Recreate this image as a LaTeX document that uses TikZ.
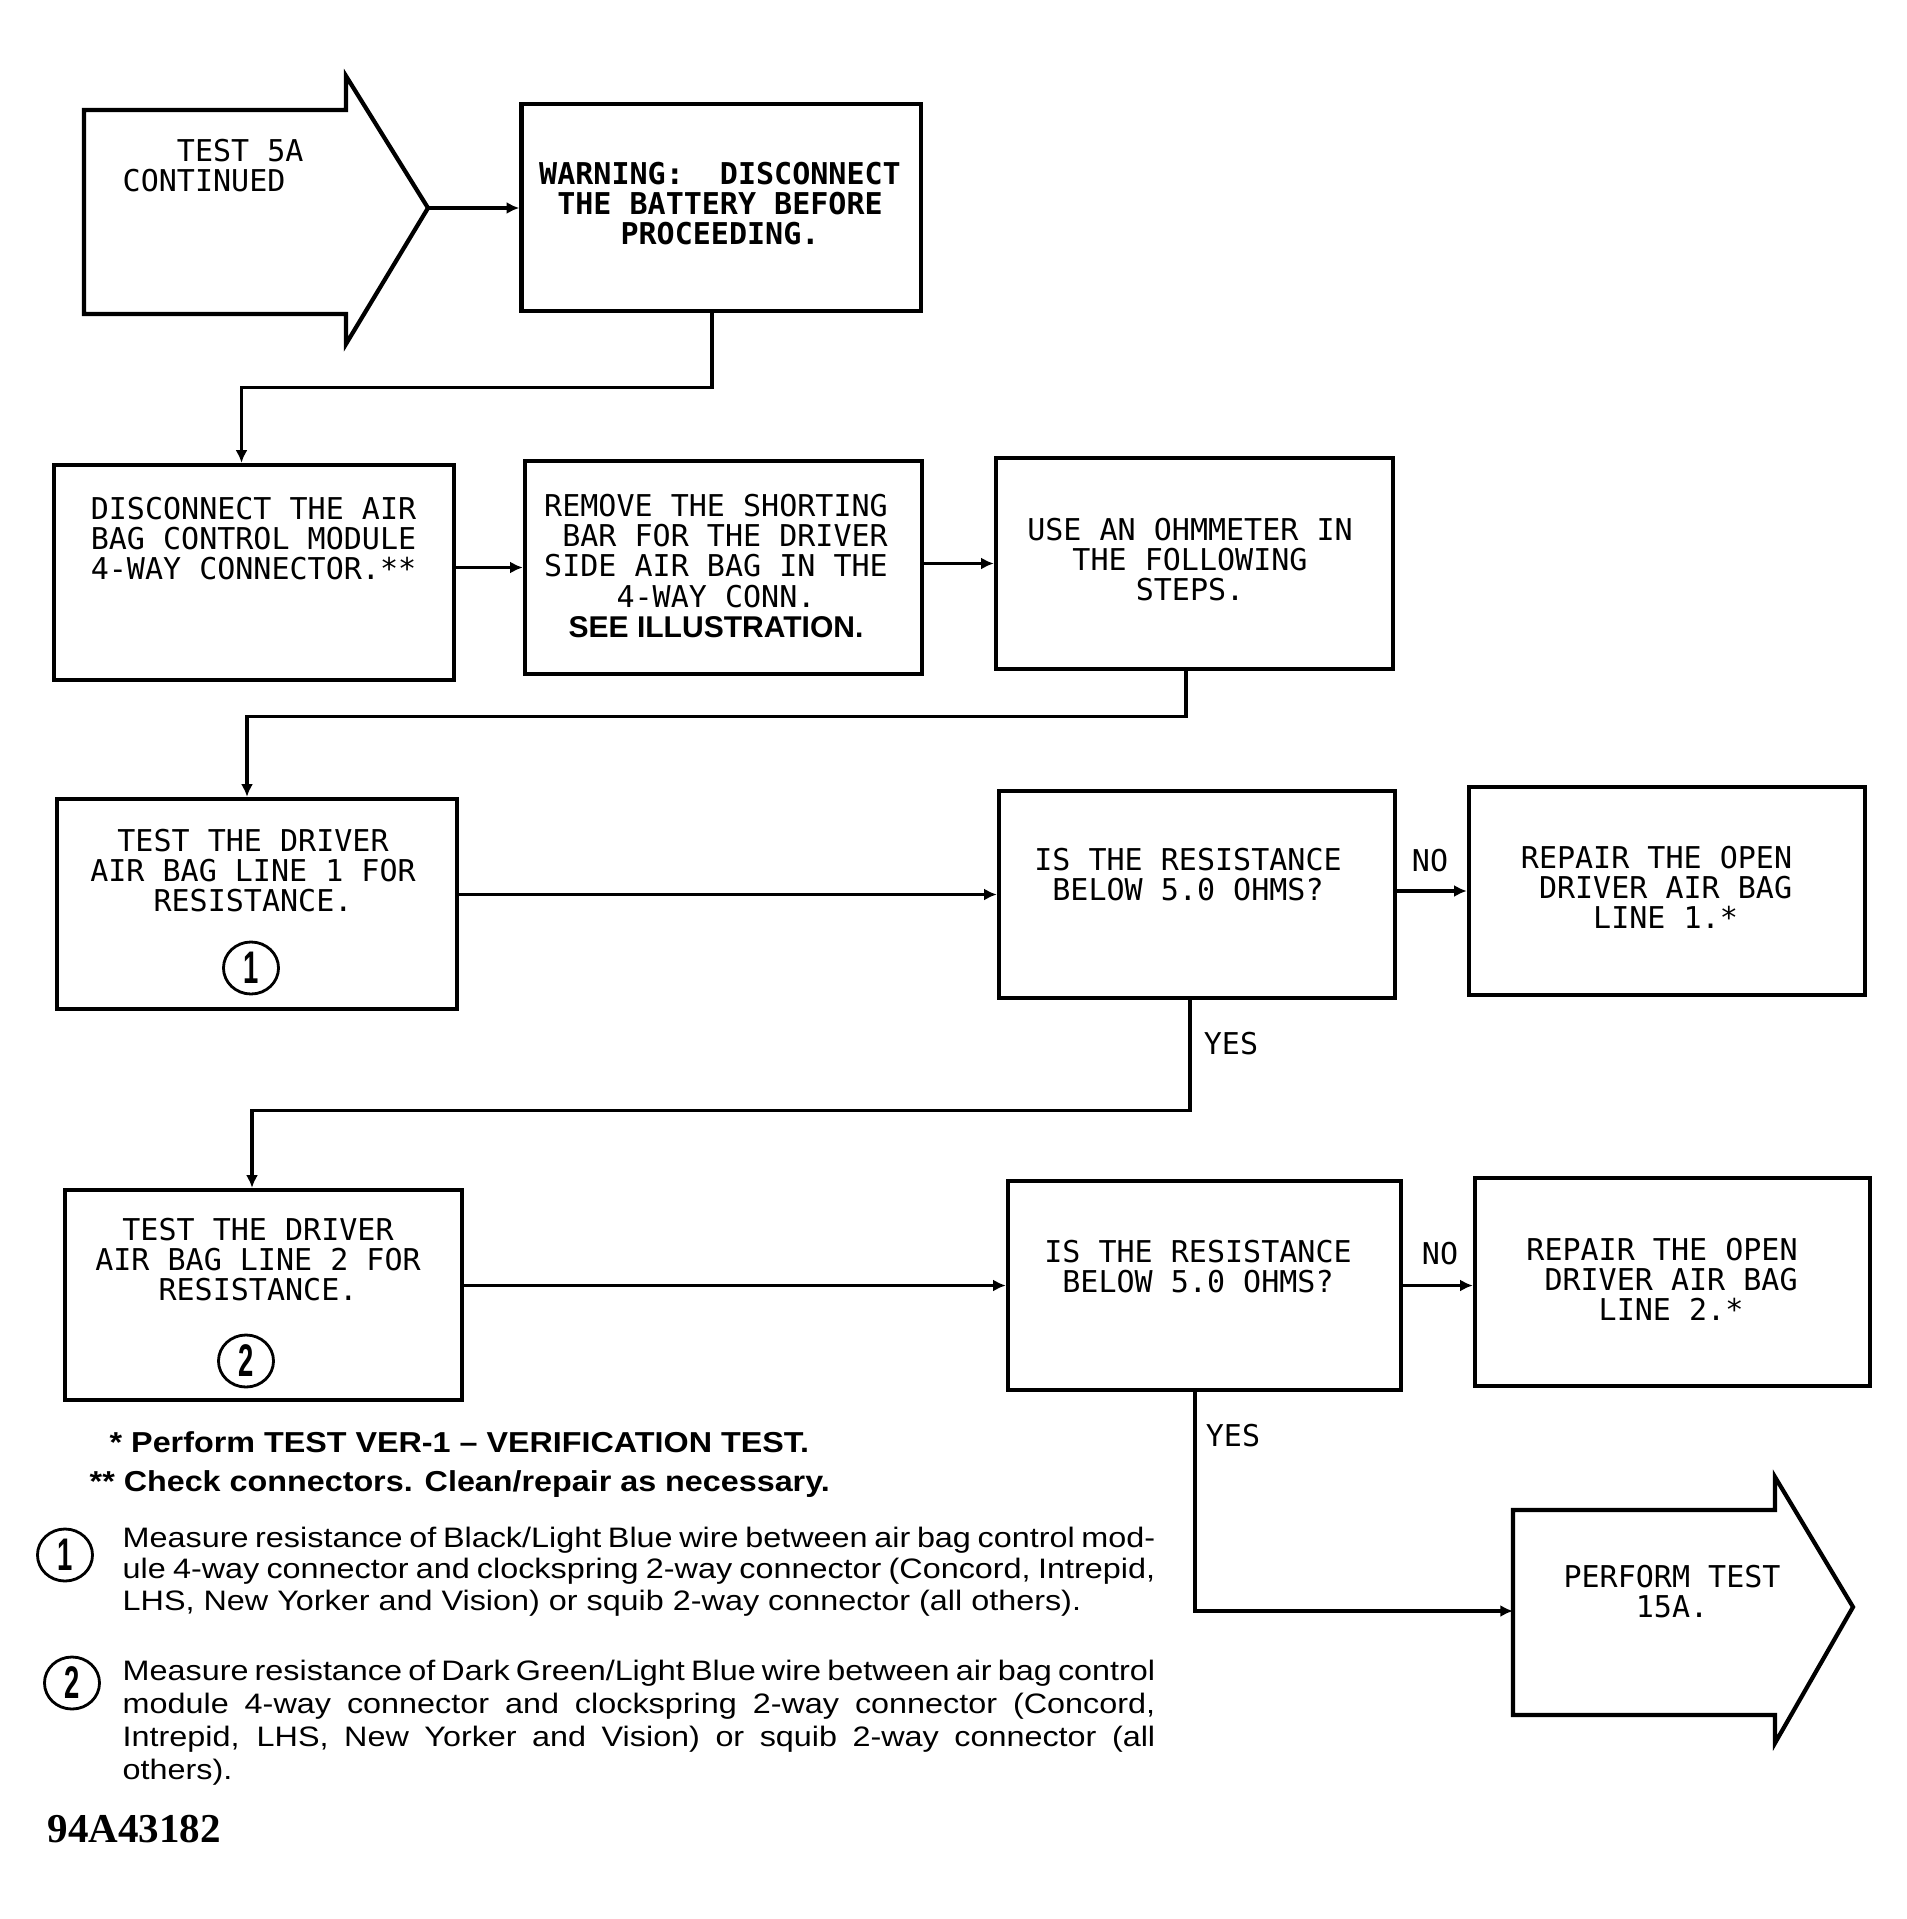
\documentclass[tikz,border=0pt]{standalone}
\usepackage{fontspec}
\setmainfont{Liberation Sans}
\newfontfamily\plotfont{DejaVu Sans Mono}
\newfontfamily\notefont[FakeStretch=1.12]{Liberation Sans}
\newfontfamily\parafont[FakeStretch=1.15]{Liberation Sans}
\newfontfamily\numfont[FakeStretch=0.6]{Liberation Sans}
\newfontfamily\codefont{Liberation Serif}
\usetikzlibrary{arrows.meta,shapes.geometric,calc}
\begin{document}
\begin{tikzpicture}[x=0.01cm,y=-0.01cm,>={Latex[length=3.6pt,width=3.4pt]},
    box/.style={draw,line width=1.2pt,inner sep=0pt},
    txt/.style={font=\plotfont\fontsize{8.54}{8.54}\selectfont,align=center,inner sep=0pt},
    btxt/.style={txt,font=\plotfont\bfseries\fontsize{8.54}{8.54}\selectfont},
    num/.style={draw,ellipse,line width=0.8pt,minimum width=0.55cm,minimum height=0.52cm,inner sep=0pt,font=\numfont\bfseries\fontsize{13}{13}\selectfont},
    note/.style={font=\notefont\bfseries\fontsize{8.2}{9.39}\selectfont,inner sep=0pt},
    para/.style={font=\parafont\fontsize{8}{9.39}\selectfont,text width=10.32cm,align=justify,inner sep=0pt,
      execute at begin node={\tolerance=10000\hyphenpenalty=10000}}]
  \useasboundingbox (0,0) rectangle (1906,1919);
  \draw[line width=1.2pt] (84,110) -- (346,110) -- (346,76) -- (428,208) -- (346,344) -- (346,314) -- (84,314) -- cycle;
  \node[txt,align=left,anchor=west] (start-t) at (122,166) {\hphantom{CON}TEST 5A\\CONTINUED};
  \coordinate (start) at (428,208);
  \node[box,minimum width=3.99cm,minimum height=2.07cm] (warn) at (721,207.5) {};
  \node[btxt] (warn-t) at (720,204) {WARNING:~~DISCONNECT\\THE BATTERY BEFORE\\PROCEEDING.};
  \node[box,minimum width=4cm,minimum height=2.15cm] (disc) at (254,572.5) {};
  \node[txt,align=left] (disc-t) at (253.5,539) {DISCONNECT THE AIR\\BAG CONTROL MODULE\\4-WAY CONNECTOR.**};
  \node[box,minimum width=3.97cm,minimum height=2.13cm] (remove) at (723.5,567.5) {};
  \node[txt] (remove-t) at (716,566) {REMOVE THE SHORTING\\\hphantom{X}BAR FOR THE DRIVER\\SIDE AIR BAG IN THE\\4-WAY CONN.\\{\rmfamily\bfseries SEE ILLUSTRATION.}};
  \node[box,minimum width=3.97cm,minimum height=2.11cm] (ohm) at (1194.5,563.5) {};
  \node[txt] (ohm-t) at (1190,560) {USE AN OHMMETER IN\\THE FOLLOWING\\STEPS.};
  \node[box,minimum width=4cm,minimum height=2.1cm] (test1) at (257,904) {};
  \node[txt] (test1-t) at (253,871) {TEST THE DRIVER\\AIR BAG LINE 1 FOR\\RESISTANCE.};
  \node[num] (c1) at (251,968) {1};
  \node[box,minimum width=3.96cm,minimum height=2.07cm] (Q1) at (1197,894.5) {};
  \node[txt] (Q1-t) at (1188,874.5) {IS THE RESISTANCE\\BELOW 5.0 OHMS?};
  \node[box,minimum width=3.96cm,minimum height=2.08cm] (rep1) at (1667,891) {};
  \node[txt] (rep1-t) at (1656.5,887) {REPAIR THE OPEN\\\hphantom{X}DRIVER AIR BAG\\\hphantom{X}LINE 1.*};
  \node[box,minimum width=3.97cm,minimum height=2.1cm] (test2) at (263.5,1295) {};
  \node[txt] (test2-t) at (258,1260) {TEST THE DRIVER\\AIR BAG LINE 2 FOR\\RESISTANCE.};
  \node[num] (c2) at (246,1361) {2};
  \node[box,minimum width=3.93cm,minimum height=2.09cm] (Q2) at (1204.5,1285.5) {};
  \node[txt] (Q2-t) at (1198,1266.5) {IS THE RESISTANCE\\BELOW 5.0 OHMS?};
  \node[box,minimum width=3.95cm,minimum height=2.08cm] (rep2) at (1672.5,1282) {};
  \node[txt] (rep2-t) at (1662,1279) {REPAIR THE OPEN\\\hphantom{X}DRIVER AIR BAG\\\hphantom{X}LINE 2.*};
  \draw[line width=1.2pt] (1513,1510) -- (1775,1510) -- (1775,1477) -- (1853,1607) -- (1775,1743) -- (1775,1715) -- (1513,1715) -- cycle;
  \node[txt] (fin-t) at (1672,1592) {PERFORM TEST\\15A.};
  \coordinate (fin) at (1513,1611);
  \begin{scope}[line width=0.9pt]
    \draw[->] (start) -- (start -| warn.west);
    \draw[->] ($(warn.south)+(-9,0)$) -- ++(0,74.5) -| ($(disc.north)+(-12.5,0)$);
    \draw[->] (remove.west -| disc.east) -- (remove.west);
    \draw[->] (ohm.west -| remove.east) -- (ohm.west);
    \draw[->] ($(ohm.south)+(-8.5,0)$) -- ++(0,45) -| ($(test1.north)+(-10,0)$);
    \draw[->] (Q1.west -| test1.east) -- (Q1.west);
    \draw[->] (rep1.west -| Q1.east) -- (rep1.west);
    \draw[->] ($(Q1.south)+(-7,0)$) -- ++(0,110) -| ($(test2.north)+(-11.5,0)$);
    \draw[->] (Q2.west -| test2.east) -- (Q2.west);
    \draw[->] (Q2.east) -- (Q2.east -| rep2.west);
    \draw[->] ($(Q2.south)+(-9.5,0)$) |- (fin);
  \end{scope}
  \node[txt] (no1) at (1430,861) {NO};
  \node[txt] (yes1) at (1231,1044) {YES};
  \node[txt] (no2) at (1440,1254) {NO};
  \node[txt] (yes2) at (1233,1436) {YES};
  \node[note,anchor=base west] (star1) at (109,1452) {* Perform TEST VER-1 – VERIFICATION TEST.};
  \node[note,anchor=base west] (star2) at (89,1491) {** Check connectors. Clean/repair as necessary.};
  \node[num] (n1) at (65,1555) {1};
  \node[para,font=\parafont\fontsize{8}{9}\selectfont,anchor=base west] (p1) at (122,1547) {Measure resistance of Black/Light Blue wire between air bag control mod-\linebreak ule 4-way connector and clockspring 2-way connector (Concord, Intrepid,\linebreak LHS, New Yorker and Vision) or squib 2-way connector (all others).};
  \node[num] (n2) at (72,1683) {2};
  \node[para,anchor=base west] (p2) at (122,1680) {Measure resistance of Dark Green/Light Blue wire between air bag control\linebreak module 4-way connector and clockspring 2-way connector (Concord,\linebreak Intrepid, LHS, New Yorker and Vision) or squib 2-way connector (all\linebreak others).};
  \node[font=\codefont\bfseries\fontsize{11.67}{11.67}\selectfont,anchor=base west,inner sep=0pt] (code) at (47,1842) {94A43182};
\end{tikzpicture}
\end{document}
